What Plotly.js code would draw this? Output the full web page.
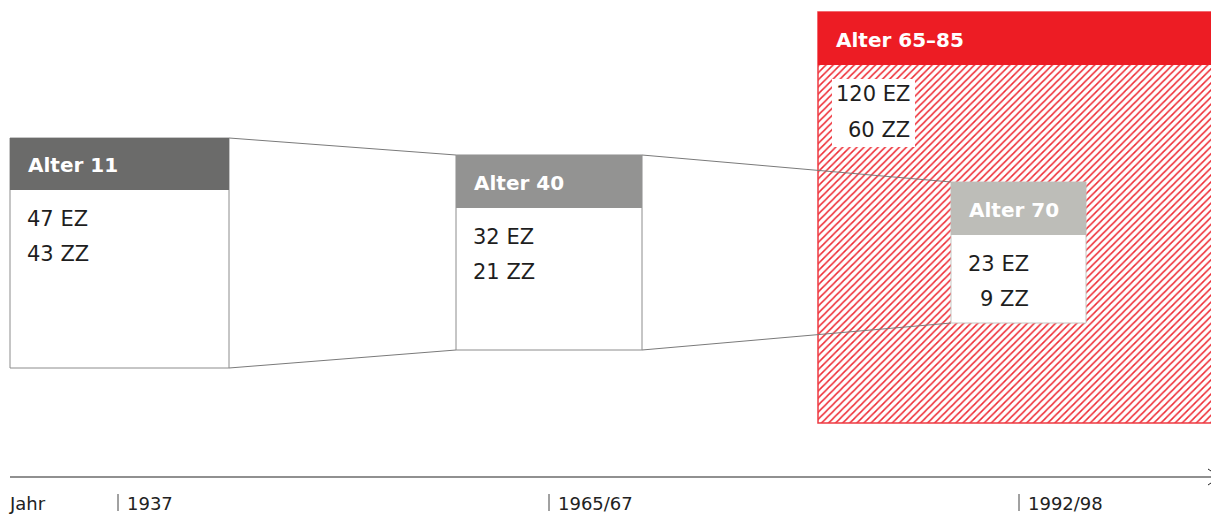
<!DOCTYPE html>
<html><head><meta charset="utf-8">
<script src="https://cdn.plot.ly/plotly-3.0.1.min.js"></script>
<style>html,body{margin:0;padding:0;background:#fff}</style>
</head><body>
<div id="chart" style="width:1211px;height:514px"></div>
<script>
// ---- data ----
const ages = ['Alter 11', 'Alter 40', 'Alter 65–85', 'Alter 70'];
const ezCounts = [47, 32, 120, 23];
const zzCounts = [43, 21, 60, 9];
const years = ['1937', '1965/67', '1992/98'];
const axisLabel = 'Jahr';

// ---- layout geometry (pixel-like coordinates) ----
const boxes = [
  {x0: 10,  x1: 229,  top: 138, head: 52, bottom: 368, color: '#6b6b6a', line: '#8c8c8c', tx: 26},
  {x0: 456, x1: 642,  top: 155, head: 53, bottom: 350, color: '#939392', line: '#8c8c8c', tx: 472},
  {x0: 818, x1: 1216, top: 12,  head: 53, bottom: 423, color: '#ed1c24', line: '#ee3a41', tx: 834},
  {x0: 951, x1: 1086, top: 182, head: 53, bottom: 323, color: '#bdbdb8', line: '#c6c6c2', tx: 967}
];
const yearPos = [118, 549, 1019];

const FONT = '"DejaVu Sans", "Noto Sans", sans-serif';
const shapes = [];
const ann = [];

// hatched body of the big red box drawn as a patterned bar
const big = boxes[2];
const traces = [{
  type: 'bar',
  x: [(big.x0 + big.x1) / 2],
  y: [big.bottom - (big.top + big.head)],
  base: [big.top + big.head],
  width: [big.x1 - big.x0],
  marker: {color: '#ffffff', line: {width: 0},
    pattern: {shape: '/', fgcolor: '#ee2a33', bgcolor: '#ffffff', size: 5.0, solidity: 0.3}},
  hoverinfo: 'skip', showlegend: false
}];

// red box outline + header
shapes.push({type: 'rect', xref: 'x', yref: 'y', x0: big.x0, x1: big.x1, y0: big.top, y1: big.bottom,
  line: {color: big.line, width: 1.5}, fillcolor: 'rgba(0,0,0,0)'});
shapes.push({type: 'rect', xref: 'x', yref: 'y', x0: big.x0, x1: big.x1, y0: big.top, y1: big.top + big.head,
  line: {width: 0}, fillcolor: big.color});
// white patch behind 120 EZ / 60 ZZ
shapes.push({type: 'rect', xref: 'x', yref: 'y', x0: 832, x1: 915, y0: 79, y1: 147,
  line: {width: 0}, fillcolor: '#ffffff'});

// connectors
const conn = [[0, 1], [1, 3]];
conn.forEach(([a, b]) => {
  const A = boxes[a], B = boxes[b];
  shapes.push({type: 'line', xref: 'x', yref: 'y', x0: A.x1, y0: A.top, x1: B.x0, y1: B.top, line: {color: '#7a7a7a', width: 1}});
  shapes.push({type: 'line', xref: 'x', yref: 'y', x0: A.x1, y0: A.bottom, x1: B.x0, y1: B.bottom, line: {color: '#7a7a7a', width: 1}});
});

// white boxes
[0, 1, 3].forEach(i => {
  const b = boxes[i];
  shapes.push({type: 'rect', xref: 'x', yref: 'y', x0: b.x0, x1: b.x1, y0: b.top, y1: b.bottom,
    line: {color: b.line, width: 1}, fillcolor: '#ffffff'});
  shapes.push({type: 'rect', xref: 'x', yref: 'y', x0: b.x0, x1: b.x1, y0: b.top, y1: b.top + b.head,
    line: {width: 0}, fillcolor: b.color});
});

// texts
boxes.forEach((b, i) => {
  ann.push({xref: 'x', yref: 'y', x: b.tx, y: b.top + b.head / 2 + 1, text: '<b>' + ages[i] + '</b>',
    xanchor: 'left', yanchor: 'middle', showarrow: false, font: {family: FONT, size: 20, color: '#ffffff'}});
});
// value lines
const valueSpec = [
  {x: 25,  y1: 219, y2: 254, align: 'left'},
  {x: 471, y1: 237, y2: 272, align: 'left'},
  {x: 912, y1: 94,  y2: 130, align: 'right'},
  {x: 1031, y1: 264, y2: 299, align: 'right'}
];
valueSpec.forEach((v, i) => {
  ann.push({xref: 'x', yref: 'y', x: v.x, y: v.y1, text: ezCounts[i] + ' EZ', xanchor: v.align, yanchor: 'middle',
    showarrow: false, font: {family: FONT, size: 21, color: '#1e1e1e'}});
  ann.push({xref: 'x', yref: 'y', x: v.x, y: v.y2, text: zzCounts[i] + ' ZZ', xanchor: v.align, yanchor: 'middle',
    showarrow: false, font: {family: FONT, size: 21, color: '#1e1e1e'}});
});

// timeline
shapes.push({type: 'line', xref: 'x', yref: 'y', x0: 10, x1: 1211, y0: 477, y1: 477, line: {color: '#222222', width: 1.2}});
shapes.push({type: 'line', xref: 'x', yref: 'y', x0: 1208, x1: 1211, y0: 469, y1: 471, line: {color: '#222222', width: 1}});
shapes.push({type: 'line', xref: 'x', yref: 'y', x0: 1208, x1: 1211, y0: 485, y1: 483, line: {color: '#222222', width: 1}});
ann.push({xref: 'x', yref: 'y', x: 7, y: 503, text: axisLabel, xanchor: 'left', yanchor: 'middle', showarrow: false,
  font: {family: FONT, size: 18, color: '#222222'}});
years.forEach((yr, i) => {
  shapes.push({type: 'line', xref: 'x', yref: 'y', x0: yearPos[i], x1: yearPos[i], y0: 494, y1: 511, line: {color: '#444444', width: 1}});
  ann.push({xref: 'x', yref: 'y', x: yearPos[i] + 7, y: 503, text: yr, xanchor: 'left', yanchor: 'middle', showarrow: false,
    font: {family: FONT, size: 18, color: '#222222'}});
});

const layout = {
  width: 1211, height: 514,
  margin: {l: 0, r: 0, t: 0, b: 0, pad: 0},
  paper_bgcolor: '#ffffff', plot_bgcolor: '#ffffff',
  xaxis: {range: [0, 1211], visible: false, fixedrange: true},
  yaxis: {range: [514, 0], visible: false, fixedrange: true},
  shapes: shapes, annotations: ann, showlegend: false, bargap: 0
};
Plotly.newPlot('chart', traces, layout, {displayModeBar: false, staticPlot: true});
</script>
</body></html>
